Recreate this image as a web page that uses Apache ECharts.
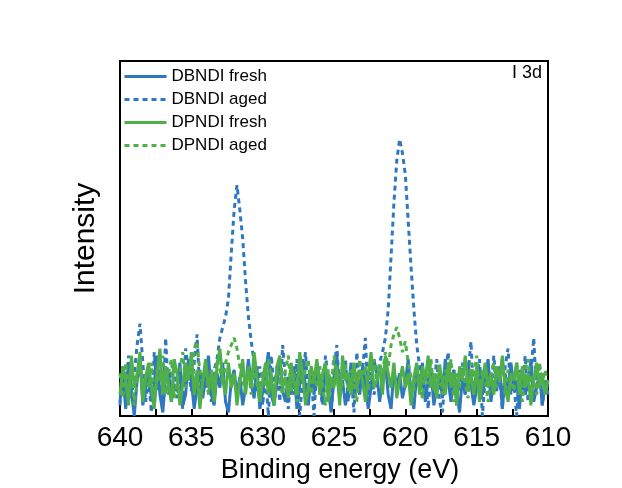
<!DOCTYPE html>
<html><head><meta charset="utf-8">
<script src="https://cdn.jsdelivr.net/npm/echarts@6/dist/echarts.min.js"></script>
<style>html,body{margin:0;padding:0;background:#fff}#c{width:622px;height:488px}</style>
</head><body><div id="c"></div>
<script>
// Binding energy grid: starts at 640 eV, step 0.2 eV downward
const energyStart = 640;
const energyStep = 0.2;
const xTicks = [640, 635, 630, 625, 620, 615, 610];
const seriesNames = ['DBNDI fresh', 'DBNDI aged', 'DPNDI fresh', 'DPNDI aged'];
const panelLabel = 'I 3d';

const dbndiFresh = [
4,12,2,15,7,0,10,16,3,8,
14,5,9,17,6,1,11,13,4,9,
7,15,3,6,16,10,2,8,13,5,
11,17,6,3,12,8,15,4,1,10,
13,6,11,3,8,16,9,5,14,2,
7,12,18,6,3,10,15,7,4,11,
6,14,2,9,16,8,3,12,6,15,
10,4,13,8,1,11,17,6,10,3,
8,15,5,12,6,14,9,2,8,16,
12,4,10,15,6,2,13,8,12,5,
9,16,6,2,12,8,15,4,10,13,
3,8,12,5,16,10,4,13,7,1,
11,6,15,9,3,8,13,6,11,16,
4,10,7,14,2,12,6,15,8,10,
2,13,6,9,16,4,8,12,3,10,
6];

const dbndiAged = [
3,14,8,17,5,12,20,26,15,4,
11,1,18,7,13,3,22,6,12,16,
5,10,2,19,13,7,15,23,6,12,
8,15,4,13,16,22,25,28,33,46,
58,65,58,50,38,28,21,15,7,14,
3,12,0,17,8,13,4,20,10,2,
14,6,16,0,11,18,5,12,0,15,
8,3,17,11,1,13,20,6,10,16,
4,12,1,18,8,13,22,3,15,6,
10,15,18,22,30,45,60,72,78,74,
68,55,42,30,20,14,6,12,2,13,
8,16,4,1,12,18,6,13,3,10,
15,6,12,21,4,9,16,0,11,13,
5,17,8,12,2,14,19,6,10,0,
13,7,17,4,12,22,6,15,3,10,
8];

const dpndiFresh = [
6,14,10,3,17,8,12,18,4,11,
15,8,2,12,19,6,14,9,4,16,
12,3,9,15,10,18,6,13,2,10,
16,8,12,4,14,19,10,6,15,8,
12,3,10,16,6,14,8,18,11,4,
10,15,6,12,3,14,17,8,11,5,
15,9,6,18,12,3,8,14,10,16,
6,12,15,4,11,8,14,3,17,10,
12,6,15,8,13,10,4,12,18,8,
10,14,6,17,12,8,15,5,10,14,
8,12,3,11,15,6,14,10,17,8,
12,5,14,10,6,15,8,12,3,14,
10,17,8,12,6,14,4,10,15,8,
12,6,14,10,17,8,4,12,10,15,
6,14,8,12,3,10,15,8,12,6,
10];

const dpndiAged = [
12,5,15,8,13,3,10,16,6,12,
8,15,4,13,10,17,6,12,16,5,
10,13,18,8,14,11,19,21,12,9,
15,6,13,10,16,13,9,15,18,20,
22,19,14,10,7,13,6,15,9,4,
13,8,16,11,3,14,9,6,13,17,
7,12,4,15,9,13,16,6,12,8,
14,9,3,13,8,17,11,5,10,15,
7,13,9,4,16,11,14,7,13,16,
10,15,12,18,14,20,23,25,22,18,
21,15,11,7,14,10,5,13,9,16,
7,12,15,6,13,9,16,4,12,8,
13,9,5,15,11,17,7,13,10,4,
12,15,8,10,16,6,13,11,7,15,
10,4,13,16,8,12,6,15,9,13,
8];

function pairs(arr){ return arr.map((v,i)=>[+(energyStart - energyStep*i).toFixed(2), v]); }

const BLUE = '#2f78bf', GREEN = '#4fb04a';
const FONT = 'Liberation Sans, Arial, sans-serif';

function mk(name, data, color, dashed){
  return {name, type:'line', data:pairs(data), showSymbol:false, symbol:'none', animation:false,
    lineStyle:{color, width:3, type: dashed ? [5,4] : 'solid'}, itemStyle:{color}};
}

const chart = echarts.init(document.getElementById('c'), null, {renderer:'canvas'});
chart.setOption({
  backgroundColor:'#fff',
  animation:false,
  grid:{left:120, right:74, top:61, bottom:72, show:true, borderColor:'#000', borderWidth:2,
    backgroundColor:'transparent', outerBoundsMode:'none', containLabel:false},
  xAxis:{type:'value', min:610, max:640, interval:5, inverse:true,
    axisLine:{show:true, onZero:false, lineStyle:{color:'#000', width:2}},
    axisTick:{show:true, inside:true, length:7, lineStyle:{color:'#000', width:2}},
    minorTick:{show:true, splitNumber:2, length:7, lineStyle:{color:'#000', width:2}},
    axisLabel:{color:'#000', fontSize:28, fontFamily:FONT, margin:8},
    splitLine:{show:false},
    name:'Binding energy (eV)', nameLocation:'middle', nameGap:40,
    nameTextStyle:{color:'#000', fontSize:27, fontFamily:FONT, padding:[0,0,0,12]}},
  yAxis:{type:'value', min:0, max:100,
    axisLine:{show:true, lineStyle:{color:'#000', width:2}},
    axisTick:{show:false}, axisLabel:{show:false}, splitLine:{show:false},
    name:'Intensity', nameLocation:'middle', nameGap:19,
    nameTextStyle:{color:'#000', fontSize:30, fontFamily:FONT}},
  legend:{orient:'vertical', left:123, top:68, padding:0, itemWidth:42, itemHeight:14, itemGap:6,
    itemStyle:{opacity:0}, lineStyle:{width:3},
    textStyle:{color:'#000', fontSize:17, fontFamily:FONT},
    data:seriesNames},
  graphic:[{type:'text', right:80, top:64, style:{text:panelLabel, fill:'#000', font:'18px '+FONT}}],
  series:[
    mk(seriesNames[0], dbndiFresh, BLUE, false),
    mk(seriesNames[1], dbndiAged, BLUE, true),
    mk(seriesNames[2], dpndiFresh, GREEN, false),
    mk(seriesNames[3], dpndiAged, GREEN, true)
  ]
});
</script></body></html>
